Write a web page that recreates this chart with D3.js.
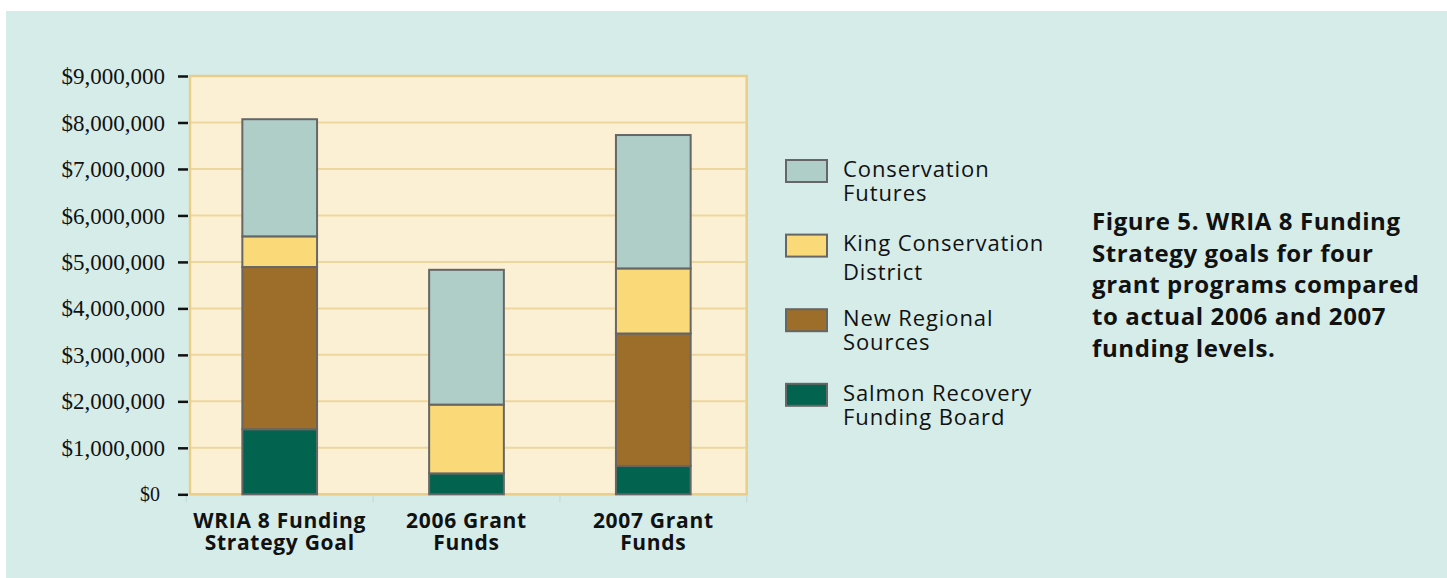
<!DOCTYPE html>
<html>
<head>
<meta charset="utf-8">
<style>
    body { margin: 0; background: #fff; }
    .axis .domain { display: none; }
    .ylab text { font-family: "Liberation Serif", serif; fill: #111; }
</style>
</head>
<body>
<svg width="1447" height="578"></svg>

<script src="https://d3js.org/d3.v7.min.js"></script>
<script>
    // ---- data ----
    var categories = ["WRIA 8 Funding Strategy Goal", "2006 Grant Funds", "2007 Grant Funds"];
    var categoryLines = [["WRIA 8 Funding", "Strategy Goal"], ["2006 Grant", "Funds"], ["2007 Grant", "Funds"]];
    var seriesKeys = ["salmon", "newRegional", "kingCD", "consFutures"];
    var salmon = [1400000, 450000, 610000];
    var newRegional = [3490000, 0, 2850000];
    var kingCD = [660000, 1480000, 1400000];
    var consFutures = [2520000, 2900000, 2870000];
    var yTicks = [0, 1000000, 2000000, 3000000, 4000000, 5000000, 6000000, 7000000, 8000000, 9000000];
    var legendKeys = ["consFutures", "kingCD", "newRegional", "salmon"];
    var legendLines = [["Conservation", "Futures"], ["King Conservation", "District"], ["New Regional", "Sources"], ["Salmon Recovery", "Funding Board"]];
    var captionLines = ["Figure 5. WRIA 8 Funding", "Strategy goals for four", "grant programs compared", "to actual 2006 and 2007", "funding levels."];

    var colors = {
        salmon: "#02644e",
        newRegional: "#9c6e29",
        kingCD: "#fad978",
        consFutures: "#afcec8"
    };

    var table = categories.map(function (c, i) {
        return {cat: c, salmon: salmon[i], newRegional: newRegional[i], kingCD: kingCD[i], consFutures: consFutures[i]};
    });

    var svg = d3.select("svg");

    // background panel
    svg.append("rect")
        .attr("x", 6).attr("y", 11)
        .attr("width", 1441).attr("height", 567)
        .attr("fill", "#d5ece9");

    var plotLeft = 186.3, plotRight = 746.7, plotTop = 76, plotBottom = 494.3;

    var x = d3.scaleBand()
        .domain(categories)
        .range([plotLeft, plotRight]);

    var xBar = d3.scaleBand()
        .domain(categories)
        .range([plotLeft, plotRight])
        .paddingInner(0.6)
        .paddingOuter(0.3);

    var y = d3.scaleLinear()
        .domain([0, 9000000])
        .range([plotBottom, plotTop]);

    // plot area
    svg.append("rect")
        .attr("x", 190).attr("y", plotTop)
        .attr("width", plotRight - 190).attr("height", plotBottom - plotTop)
        .attr("fill", "#fcf0d4");

    svg.append("g")
        .selectAll("line")
        .data(yTicks.slice(1, -1))
        .enter().append("line")
        .attr("x1", 191).attr("x2", plotRight - 1)
        .attr("y1", function (d) { return y(d); })
        .attr("y2", function (d) { return y(d); })
        .attr("stroke", "#eed79f")
        .attr("stroke-width", 2);

    svg.append("rect")
        .attr("x", 190).attr("y", plotTop)
        .attr("width", plotRight - 190).attr("height", plotBottom - plotTop)
        .attr("fill", "none")
        .attr("stroke", "#ebcd8a")
        .attr("stroke-width", 2.5);

    // faint category ticks below the axis
    svg.append("g")
        .selectAll("line")
        .data(categories.concat(["end"]))
        .enter().append("line")
        .attr("x1", function (d, i) { return plotLeft + i * x.step(); })
        .attr("x2", function (d, i) { return plotLeft + i * x.step(); })
        .attr("y1", plotBottom + 1.5).attr("y2", plotBottom + 8)
        .attr("stroke", "#c3d8d4")
        .attr("stroke-width", 1);

    // stacked bars
    var stack = d3.stack().keys(seriesKeys)(table);

    svg.append("g")
        .selectAll("g")
        .data(stack)
        .enter().append("g")
        .attr("fill", function (d) { return colors[d.key]; })
        .selectAll("rect")
        .data(function (d) { return d.filter(function (p) { return p[1] > p[0]; }); })
        .enter().append("rect")
        .attr("x", function (d) { return xBar(d.data.cat); })
        .attr("y", function (d) { return y(d[1]); })
        .attr("width", xBar.bandwidth())
        .attr("height", function (d) { return y(d[0]) - y(d[1]); })
        .attr("stroke", "#666")
        .attr("stroke-width", 2);

    // y axis
    var yAxis = svg.append("g")
        .attr("class", "axis ylab")
        .attr("transform", "translate(188,0)")
        .call(d3.axisLeft(y)
            .tickValues(yTicks)
            .tickSize(10)
            .tickPadding(13)
            .tickFormat(function (d) { return "$" + d3.format(",")(d); }));

    yAxis.selectAll(".tick line")
        .attr("stroke", "#111")
        .attr("stroke-width", 2.5);

    yAxis.selectAll(".tick text")
        .attr("font-size", function (d) { return d === 0 ? 20 : 23; })
        .attr("x", function (d) { return d === 0 ? -28 : -23; })
        .attr("dy", "0.33em");

    // x labels
    var xl = svg.append("g")
        .attr("font-family", "'Open Sans', sans-serif")
        .attr("font-weight", "bold")
        .attr("font-size", 21)
        .attr("letter-spacing", 0.7)
        .attr("fill", "#111")
        .attr("text-anchor", "middle");

    xl.selectAll("text")
        .data(categories)
        .enter().append("text")
        .attr("transform", function (d) { return "translate(" + (x(d) + x.bandwidth() / 2) + ",528)"; })
        .selectAll("tspan")
        .data(function (d, i) { return categoryLines[i]; })
        .enter().append("tspan")
        .attr("x", 0)
        .attr("y", function (d, i) { return i * 22.4; })
        .text(function (d) { return d; });

    // legend
    var legend = svg.append("g")
        .attr("font-family", "'Open Sans', sans-serif")
        .attr("font-size", 22)
        .attr("letter-spacing", 0.9)
        .attr("fill", "#111")
        .selectAll("g")
        .data(legendKeys)
        .enter().append("g")
        .attr("transform", function (d, i) { return "translate(785," + (159 + i * 74.6) + ")"; });

    legend.append("rect")
        .attr("x", 1).attr("y", 1)
        .attr("width", 41).attr("height", 22)
        .attr("fill", function (d) { return colors[d]; })
        .attr("stroke", "#666")
        .attr("stroke-width", 2);

    legend.append("text")
        .selectAll("tspan")
        .data(function (d, i) { return legendLines[i].map(function (t) { return {t: t, k: d}; }); })
        .enter().append("tspan")
        .attr("x", 58)
        .attr("y", function (d, i) { return 17.7 + i * (d.k === "kingCD" ? 28.3 : 24.4); })
        .text(function (d) { return d.t; });

    // caption
    svg.append("text")
        .attr("font-family", "'Open Sans', sans-serif")
        .attr("font-weight", "bold")
        .attr("font-size", 24)
        .attr("letter-spacing", 0.6)
        .attr("fill", "#111")
        .selectAll("tspan")
        .data(captionLines)
        .enter().append("tspan")
        .attr("x", 1092)
        .attr("y", function (d, i) { return 230 + i * 31.7; })
        .text(function (d) { return d; });
</script>
</body>
</html>
